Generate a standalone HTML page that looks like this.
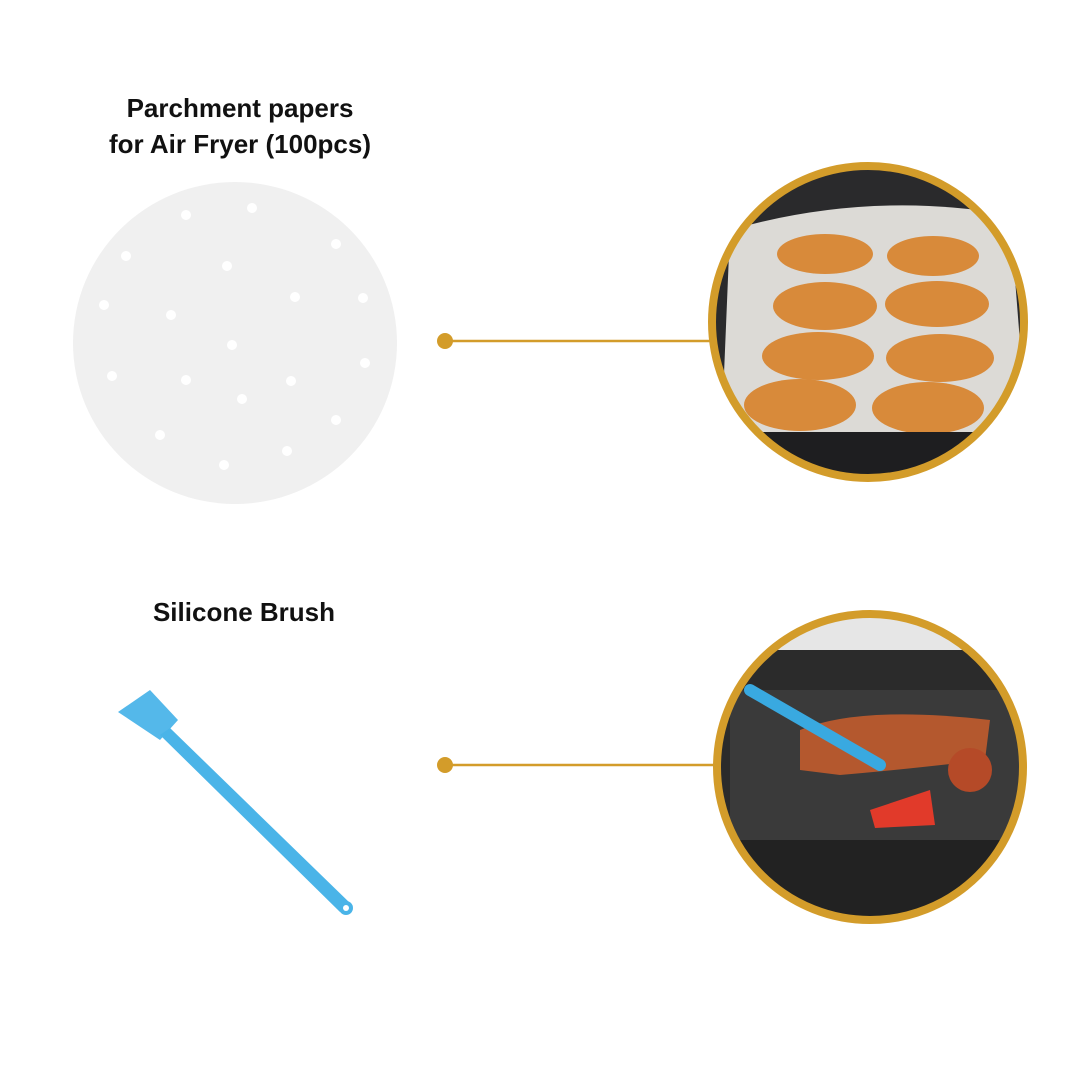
<!DOCTYPE html>
<html><head><meta charset="utf-8"><style>
body{margin:0;background:#fff;}
.t{position:absolute;font-family:"Liberation Sans",sans-serif;font-weight:bold;font-size:26px;color:#111;text-align:center;}
</style></head><body>
<div style="position:relative;width:1080px;height:1080px;overflow:hidden;background:#fff">
<div class="t" style="left:40px;width:400px;top:90px;line-height:36px">Parchment papers<br>for Air Fryer (100pcs)</div>
<div class="t" style="left:44px;width:400px;top:596px;line-height:32px">Silicone Brush</div>
<svg width="1080" height="1080" style="position:absolute;left:0;top:0">
<defs>
<clipPath id="c1"><circle cx="868" cy="322" r="156"/></clipPath>
<clipPath id="c2"><circle cx="870" cy="767" r="153"/></clipPath>
</defs>
<ellipse cx="235" cy="343" rx="162" ry="161" fill="#f0f0f0"/>
<g fill="#fff">
<circle cx="252" cy="208" r="5"/><circle cx="186" cy="215" r="5"/><circle cx="336" cy="244" r="5"/><circle cx="126" cy="256" r="5"/><circle cx="227" cy="266" r="5"/><circle cx="295" cy="297" r="5"/><circle cx="363" cy="298" r="5"/><circle cx="104" cy="305" r="5"/><circle cx="171" cy="315" r="5"/><circle cx="232" cy="345" r="5"/><circle cx="365" cy="363" r="5"/><circle cx="112" cy="376" r="5"/><circle cx="186" cy="380" r="5"/><circle cx="291" cy="381" r="5"/><circle cx="242" cy="399" r="5"/><circle cx="336" cy="420" r="5"/><circle cx="160" cy="435" r="5"/><circle cx="287" cy="451" r="5"/><circle cx="224" cy="465" r="5"/>
</g>
<circle cx="445" cy="341" r="8" fill="#d39c2a"/>
<line x1="445" y1="341" x2="712" y2="341" stroke="#d39c2a" stroke-width="2.5"/>
<circle cx="445" cy="765" r="8" fill="#d39c2a"/>
<line x1="445" y1="765" x2="718" y2="765" stroke="#d39c2a" stroke-width="2.5"/>
<g clip-path="url(#c1)">
<rect x="700" y="160" width="340" height="330" fill="#2a2a2c"/>
<path d="M730 230 Q870 190 1010 215 L1030 470 L720 470 Z" fill="#dcdad6"/>
<g fill="#d88a3a">
<ellipse cx="825" cy="254" rx="48" ry="20"/><ellipse cx="933" cy="256" rx="46" ry="20"/>
<ellipse cx="825" cy="306" rx="52" ry="24"/><ellipse cx="937" cy="304" rx="52" ry="23"/>
<ellipse cx="818" cy="356" rx="56" ry="24"/><ellipse cx="940" cy="358" rx="54" ry="24"/>
<ellipse cx="800" cy="405" rx="56" ry="26"/><ellipse cx="928" cy="408" rx="56" ry="26"/>
</g>
<rect x="700" y="432" width="340" height="60" fill="#1e1e20"/>
</g>
<circle cx="868" cy="322" r="156" fill="none" stroke="#d39c2a" stroke-width="8"/>
<g clip-path="url(#c2)">
<rect x="700" y="610" width="340" height="320" fill="#e6e6e6"/>
<rect x="700" y="650" width="340" height="270" fill="#2b2b2b"/>
<rect x="730" y="690" width="290" height="150" rx="10" fill="#3a3a3a"/>
<path d="M800 730 Q860 705 990 720 L985 760 Q900 770 840 775 L800 770 Z" fill="#b4582e"/>
<circle cx="970" cy="770" r="22" fill="#b54a28"/>
<path d="M870 810 L930 790 L935 825 L875 828 Z" fill="#e13a2a"/>
<line x1="750" y1="690" x2="880" y2="765" stroke="#39a9e0" stroke-width="12" stroke-linecap="round"/>
<rect x="700" y="840" width="340" height="90" fill="#222"/>
</g>
<circle cx="870" cy="767" r="153" fill="none" stroke="#d39c2a" stroke-width="8"/>
<g>
<path d="M118 712 L150 690 L178 720 L160 740 Z" fill="#54b8ea"/>
<path d="M160 735 L170 728 L352 905 L340 912 Z" fill="#4ab4e8"/>
<circle cx="346" cy="908" r="7" fill="#4ab4e8"/>
<circle cx="346" cy="908" r="3" fill="#fff"/>
</g>
</svg>
</div>
</body></html>
